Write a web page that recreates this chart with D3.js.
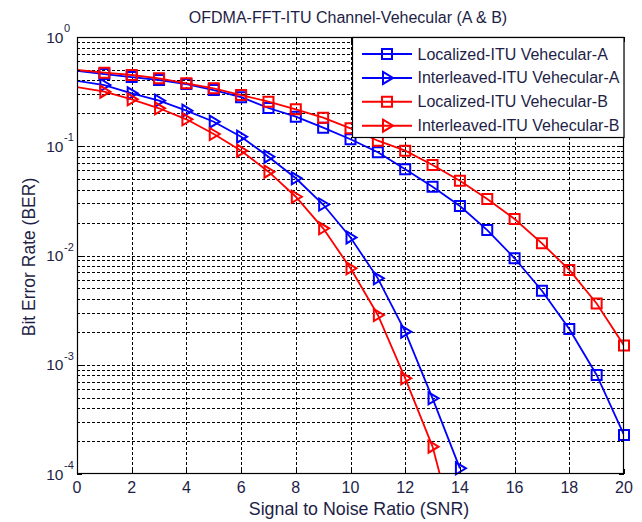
<!DOCTYPE html>
<html><head><meta charset="utf-8">
<script src="https://cdn.jsdelivr.net/npm/d3@7"></script>
<style>body{margin:0;background:#fff}svg{display:block}text{font-family:"Liberation Sans",Arial,sans-serif;fill:#1e1e46}</style>
</head><body><svg id="c" width="642" height="522"></svg>
<script>
const snr = d3.range(0, 21);
const locA = [0.489,0.458,0.43,0.404,0.371,0.327,0.281,0.224,0.1865,0.148,0.1158,0.0881,0.0615,0.0426,0.0284,0.0171,0.00943,0.00476,0.002124,0.000806,0.000228];
const intA = [0.396,0.3635,0.305,0.261,0.2115,0.1678,0.1223,0.0802,0.0509,0.0293,0.01462,0.00618,0.002007,0.000493,0.0001127];
const locB = [0.499,0.471,0.449,0.419,0.377,0.339,0.2945,0.256,0.218,0.1825,0.146,0.1124,0.0911,0.0674,0.0484,0.0329,0.0216,0.01293,0.00737,0.003636,0.0015];
const intB = [0.3485,0.3157,0.269,0.2226,0.1765,0.1295,0.0911,0.0585,0.0345,0.01774,0.00763,0.002853,0.000751,0.000178,0.00002];
const seriesNames = ["Localized-ITU Vehecular-A","Interleaved-ITU Vehecular-A","Localized-ITU Vehecular-B","Interleaved-ITU Vehecular-B"];
const seriesColors = ["#0000ff","#0000ff","#ff0000","#ff0000"];
const seriesMarkers = ["square","tri","square","tri"];
const xTicks = [0,2,4,6,8,10,12,14,16,18,20];
const yDecades = [-4,-3,-2,-1,0];
const titleText = "OFDMA-FFT-ITU Channel-Vehecular (A & B)";
const xLabel = "Signal to Noise Ratio (SNR)";
const yLabel = "Bit Error Rate (BER)";

const L=77, R=624, T=37, B=474;
const svg = d3.select("#c");
const x = d3.scaleLinear().domain([0,20]).range([L,R]);
const y = d3.scaleLog().domain([1e-4,1]).range([B,T]);

// grid
const minorVals = [];
yDecades.slice(0,-1).forEach(d=>{for(let k=1;k<=9;k++) minorVals.push(k*Math.pow(10,d));});
const g = svg.append("g");
g.selectAll("line.gy").data(minorVals.filter(v=>v>1e-4)).join("line")
 .attr("x1",L).attr("x2",R).attr("y1",d=>Math.round(y(d))+0.5).attr("y2",d=>Math.round(y(d))+0.5)
 .attr("stroke","#000").attr("stroke-width",1).attr("stroke-dasharray","3,2");
g.selectAll("line.gx").data(xTicks.slice(1,-1)).join("line")
 .attr("x1",d=>Math.round(x(d))+0.5).attr("x2",d=>Math.round(x(d))+0.5).attr("y1",T).attr("y2",B)
 .attr("stroke","#000").attr("stroke-width",1).attr("stroke-dasharray","3,2");

// clip
svg.append("clipPath").attr("id","clp").append("rect").attr("x",L).attr("y",T).attr("width",R-L).attr("height",B-T);

const data = [locA,intA,locB,intB];
const line = d3.line().x((d,i)=>x(snr[i])).y(d=>y(d));
const sq = "M-5,-5H5V5H-5Z";
const tri = "M-4,-6L6,0L-4,6Z";
data.forEach((arr,si)=>{
  svg.append("path").datum(arr).attr("d",line).attr("fill","none")
    .attr("stroke",seriesColors[si]).attr("stroke-width",1.8).attr("clip-path","url(#clp)");
  svg.append("g").selectAll("path").data(arr.map((v,i)=>({v,i})).filter(d=>d.i>0 && d.v>=1e-4)).join("path")
    .attr("d",seriesMarkers[si]==="square"?sq:tri)
    .attr("transform",d=>`translate(${x(snr[d.i])},${y(d.v)})`)
    .attr("fill","none").attr("stroke",seriesColors[si]).attr("stroke-width",2);
});

// axes box
svg.append("rect").attr("x",L+0.5).attr("y",T+0.5).attr("width",R-L-1).attr("height",B-T-1)
 .attr("fill","none").attr("stroke","#000").attr("stroke-width",1.2);
// ticks
const tk = svg.append("g").attr("stroke","#000").attr("stroke-width",1);
xTicks.forEach(t=>{const px=Math.round(x(t))+0.5;
  tk.append("line").attr("x1",px).attr("x2",px).attr("y1",B).attr("y2",B-5);
  tk.append("line").attr("x1",px).attr("x2",px).attr("y1",T).attr("y2",T+5);});
minorVals.concat([1]).forEach(v=>{const py=Math.round(y(v))+0.5; const len=(Math.abs(Math.log10(v)%1)<1e-9)?5:3;
  tk.append("line").attr("x1",L).attr("x2",L+len).attr("y1",py).attr("y2",py);
  tk.append("line").attr("x1",R-len).attr("x2",R).attr("y1",py).attr("y2",py);});

// tick labels
svg.append("g").selectAll("text").data(xTicks).join("text")
 .attr("x",d=>x(d)).attr("y",493).attr("text-anchor","middle").attr("font-size",16).text(d=>d);
const yl = svg.append("g");
yDecades.forEach(d=>{
  yl.append("text").attr("x",63.5).attr("y",y(Math.pow(10,d))+5.5).attr("text-anchor","end").attr("font-size",15.5).text("10");
  yl.append("text").attr("x",64).attr("y",y(Math.pow(10,d))-5).attr("font-size",11).text(String(d));
});

// title and labels
svg.append("text").attr("x",348).attr("y",23).attr("text-anchor","middle").attr("font-size",16).text(titleText);
svg.append("text").attr("x",359).attr("y",515).attr("text-anchor","middle").attr("font-size",17.8).text(xLabel);
svg.append("text").attr("transform","translate(35,257) rotate(-90)").attr("text-anchor","middle").attr("font-size",17.5).text(yLabel);

// legend
const lg = svg.append("g");
lg.append("rect").attr("x",352.5).attr("y",T+0.5).attr("width",R-352.5).attr("height",100).attr("fill","#fff").attr("stroke","#000").attr("stroke-width",1.2);
seriesNames.forEach((n,i)=>{
  const yy = 54 + i*23.9;
  lg.append("line").attr("x1",362).attr("x2",412).attr("y1",yy).attr("y2",yy).attr("stroke",seriesColors[i]).attr("stroke-width",2);
  lg.append("path").attr("d",seriesMarkers[i]==="square"?sq:tri).attr("transform",`translate(387,${yy})`).attr("fill","none").attr("stroke",seriesColors[i]).attr("stroke-width",2);
  lg.append("text").attr("x",417.5).attr("y",yy+5.5).attr("font-size",16).text(n);
});
</script></body></html>
